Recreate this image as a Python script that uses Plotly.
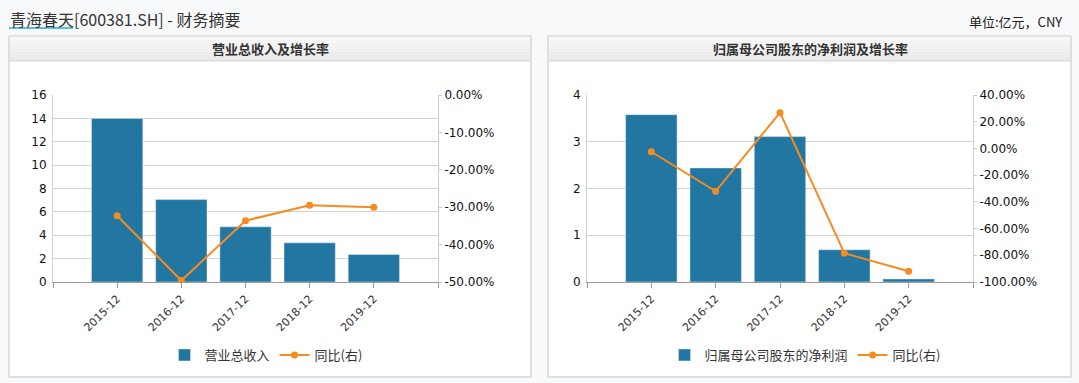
import plotly.graph_objects as go

# ---- data ----
categories = ["2015-12", "2016-12", "2017-12", "2018-12", "2019-12"]
revenue = [14.0, 7.05, 4.72, 3.35, 2.35]            # 营业总收入 (亿元)
revenue_yoy = [-32.3, -49.6, -33.6, -29.5, -30.0]   # 同比 %
net_profit = [3.58, 2.44, 3.11, 0.69, 0.065]        # 归属母公司股东的净利润 (亿元)
profit_yoy = [-2.5, -32.1, 26.8, -78.5, -92.0]      # 同比 %

left_ticks = [0, 2, 4, 6, 8, 10, 12, 14, 16]
left_pct_ticks = [-50, -40, -30, -20, -10, 0]
right_ticks = [0, 1, 2, 3, 4]
right_pct_ticks = [-100, -80, -60, -40, -20, 0, 20, 40]

W, H = 1079, 383
BAR = "#2276a2"
ORANGE = "#f68b1f"
CJK = "Noto Sans CJK SC"
NUM = "DejaVu Sans"


def px(x):
    return x / W


def py(y):
    return 1 - y / H


xs = list(range(len(categories)))
xtickvals = [-1] + xs + [len(categories)]
xticktext = [""] + categories + [""]

fig = go.Figure()
fig.add_trace(go.Bar(x=xs, y=revenue, name="营业总收入", marker=dict(color=BAR),
                     xaxis="x", yaxis="y", legend="legend"))
fig.add_trace(go.Scatter(x=xs, y=revenue_yoy, name="同比(右)", mode="lines+markers",
                         line=dict(color=ORANGE, width=2), marker=dict(color=ORANGE, size=7),
                         xaxis="x", yaxis="y2", legend="legend"))
fig.add_trace(go.Bar(x=xs, y=net_profit, name="归属母公司股东的净利润", marker=dict(color=BAR),
                     xaxis="x2", yaxis="y3", legend="legend2"))
fig.add_trace(go.Scatter(x=xs, y=profit_yoy, name="同比(右)", mode="lines+markers",
                         line=dict(color=ORANGE, width=2), marker=dict(color=ORANGE, size=7),
                         xaxis="x2", yaxis="y4", legend="legend2"))

ydom = [py(282), py(95)]
tickfont = dict(family=NUM, size=12, color="#111")


def xaxis_cfg(dom, anchor):
    return dict(domain=dom, anchor=anchor, range=[-1, len(categories)], tickmode="array",
                tickvals=xtickvals, ticktext=xticktext, tickangle=-45, ticks="outside",
                ticklen=5, tickcolor="#999", showline=True, linecolor="#999", linewidth=1,
                showgrid=False, zeroline=False, tickfont=dict(family=NUM, size=11, color="#333"),
                fixedrange=True, automargin=False)


def yleft_cfg(anchor, rng, ticks):
    return dict(domain=ydom, anchor=anchor, range=rng, tickmode="array", tickvals=ticks,
                ticktext=[str(t) for t in ticks], showgrid=True, gridcolor="#d3d3d3",
                showline=True, linecolor="#d0d0d0", zeroline=False, ticks="",
                tickfont=tickfont, ticklabelstandoff=3, automargin=False)


def yright_cfg(anchor, overlay, rng, ticks):
    return dict(domain=ydom, anchor=anchor, overlaying=overlay, side="right", range=rng,
                tickmode="array", tickvals=ticks, ticktext=[f"{t:.2f}%" for t in ticks],
                showgrid=False, showline=True, linecolor="#d0d0d0", zeroline=False,
                ticks="outside", ticklen=3, tickcolor="#c8c8c8", tickfont=tickfont,
                automargin=False)


fig.update_layout(
    width=W, height=H, margin=dict(l=0, r=0, t=0, b=0, autoexpand=False),
    paper_bgcolor="#f8f9fb", plot_bgcolor="rgba(0,0,0,0)",
    bargap=0.2, showlegend=True,
    xaxis=xaxis_cfg([px(53), px(438)], "y"),
    yaxis=yleft_cfg("x", [0, 16], left_ticks),
    yaxis2=yright_cfg("x", "y", [-50, 0], left_pct_ticks),
    xaxis2=xaxis_cfg([px(587), px(973)], "y3"),
    yaxis3=yleft_cfg("x2", [0, 4], right_ticks),
    yaxis4=yright_cfg("x2", "y3", [-100, 40], right_pct_ticks),
    legend=dict(orientation="h", x=px(266), y=py(355), xanchor="center", yanchor="middle",
                font=dict(family=CJK, size=13, color="#333"), bgcolor="rgba(0,0,0,0)",
                itemwidth=30),
    legend2=dict(orientation="h", x=px(805), y=py(355), xanchor="center", yanchor="middle",
                 font=dict(family=CJK, size=13, color="#333"), bgcolor="rgba(0,0,0,0)",
                 itemwidth=30),
)

shapes = []
for x0, x1 in [(9, 531), (548, 1071)]:
    # panel
    shapes.append(dict(type="rect", xref="paper", yref="paper", x0=px(x0), x1=px(x1),
                       y0=py(377), y1=py(36), fillcolor="white", line=dict(color="#d6d6d6", width=1),
                       layer="below"))
    # header gradient
    n = 8
    for i in range(n):
        t = i / (n - 1)
        c = int(round(0xf7 - t * (0xf7 - 0xe9)))
        col = f"rgb({c},{c},{c})"
        ya = 36 + i * 25 / n
        yb = 36 + (i + 1) * 25 / n
        shapes.append(dict(type="rect", xref="paper", yref="paper", x0=px(x0 + 1), x1=px(x1 - 1),
                           y0=py(yb), y1=py(ya), fillcolor=col, line=dict(width=0), layer="below"))
    shapes.append(dict(type="line", xref="paper", yref="paper", x0=px(x0), x1=px(x1),
                       y0=py(61), y1=py(61), line=dict(color="#d6d6d6", width=1), layer="below"))
    shapes.append(dict(type="rect", xref="paper", yref="paper", x0=px(x0), x1=px(x1),
                       y0=py(377), y1=py(36), fillcolor="rgba(0,0,0,0)",
                       line=dict(color="#d6d6d6", width=1), layer="below"))
# title underline
shapes.append(dict(type="line", xref="paper", yref="paper", x0=px(9), x1=px(73),
                   y0=py(28), y1=py(28), line=dict(color="#22aec9", width=1.5)))
fig.update_layout(shapes=shapes)

annotations = [
    dict(text="青海春天[600381.SH] - 财务摘要", x=px(8), y=py(19), xref="paper", yref="paper",
         xanchor="left", yanchor="middle", showarrow=False,
         font=dict(family=CJK, size=16, color="#333")),
    dict(text="单位:亿元，CNY", x=px(1064), y=py(22), xref="paper", yref="paper",
         xanchor="right", yanchor="middle", showarrow=False,
         font=dict(family=CJK, size=13, color="#222")),
    dict(text="<b>营业总收入及增长率</b>", x=px(270), y=py(49), xref="paper", yref="paper",
         xanchor="center", yanchor="middle", showarrow=False,
         font=dict(family=CJK, size=13, color="#333")),
    dict(text="<b>归属母公司股东的净利润及增长率</b>", x=px(810), y=py(49), xref="paper", yref="paper",
         xanchor="center", yanchor="middle", showarrow=False,
         font=dict(family=CJK, size=13, color="#333")),
]
fig.update_layout(annotations=annotations)

fig.write_html("out.html", config={"displayModeBar": False},
               post_script="document.body.style.margin='0';document.body.style.overflow='hidden';")
